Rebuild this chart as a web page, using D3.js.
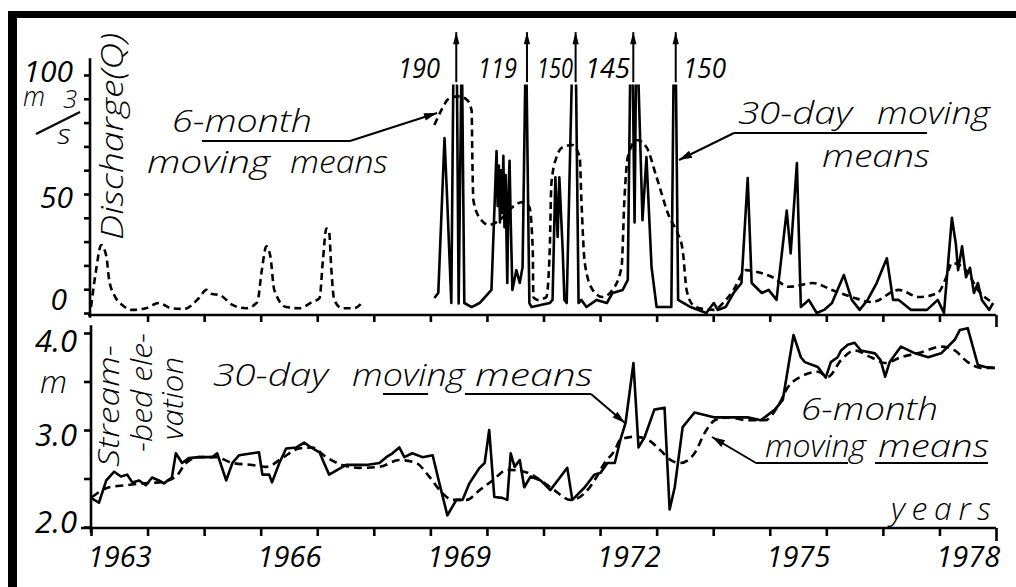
<!DOCTYPE html>
<html><head><meta charset="utf-8">
<script src="https://cdn.jsdelivr.net/npm/d3@7"></script>
<style>
html,body{margin:0;padding:0;background:#fff;overflow:hidden;}
svg{display:block;}
svg text{font-family:"Open Sans",sans-serif;font-style:italic;font-weight:400;fill:#000;}
svg text.ann{font-weight:300;}
</style></head><body>
<svg id="c" width="1016" height="587"></svg>
<script>
// ---------- DATA ----------
const yearLabels = [1963, 1966, 1969, 1972, 1975, 1978];
const dischargeLabels = [0, 50, 100];
const elevationLabels = [2.0, 3.0, 4.0];
const offScaleYears = [1969.44, 1970.69, 1971.55, 1972.57, 1973.32];
const offScaleValues = [190, 119, 150, 145, 150];

// Discharge, 6-month moving means (m3/s)
const q6mEarly = [[1963.0,2.5],[1963.09,18],[1963.18,28.6],[1963.27,24],[1963.32,14],[1963.41,7.6],[1963.55,3.4],[1963.73,1.3],[1963.97,2],[1964.2,4.2],[1964.42,2],[1964.65,1.7],[1964.91,6.3],[1965.04,9.7],[1965.14,8],[1965.27,7.6],[1965.5,3.4],[1965.74,2],[1965.94,4.6],[1966.02,18],[1966.1,28],[1966.17,24],[1966.24,9.7],[1966.45,2.5],[1966.68,2],[1966.91,4.6],[1967.04,6.3],[1967.1,22],[1967.16,35.5],[1967.21,34],[1967.25,18],[1967.3,5.5],[1967.44,2],[1967.65,2],[1967.8,4.6]];
const q6mLate = [[1969.07,79],[1969.19,85],[1969.3,89.5],[1969.39,90.8],[1969.51,91],[1969.65,89.5],[1969.73,85],[1969.74,68.5],[1969.76,47.5],[1969.87,40],[1970.04,37],[1970.22,39],[1970.45,44.5],[1970.63,46.6],[1970.75,44.5],[1970.81,26.5],[1970.82,6.7],[1970.89,5.5],[1971.05,6.7],[1971.11,26.5],[1971.14,54.6],[1971.23,65.5],[1971.34,69.7],[1971.51,70.6],[1971.64,65.5],[1971.67,47.5],[1971.73,21],[1971.87,9.7],[1972.04,6.7],[1972.22,9.7],[1972.38,19.3],[1972.43,47.5],[1972.49,65.5],[1972.65,72.7],[1972.82,69.7],[1973.0,57],[1973.23,40],[1973.37,33.6],[1973.46,26.5],[1973.53,9.7],[1973.64,3.4],[1973.76,2],[1974.01,1.3],[1974.19,4.6],[1974.36,9.7],[1974.58,18],[1974.82,17],[1975.05,15],[1975.34,11],[1975.76,12.6],[1976.1,9.7],[1976.45,6.7],[1976.81,4.6],[1977.28,9.7],[1977.64,6.7],[1977.97,8.4],[1978.12,15],[1978.22,21],[1978.47,18],[1978.68,9.7],[1978.95,4.2]];
// Discharge, 30-day moving means (m3/s)
const q30 = [[1969.07,6.3],[1969.14,8.4],[1969.25,73.5],[1969.3,46],[1969.37,4.2],[1969.44,190],[1969.5,4],[1969.555,115],[1969.6,4.2],[1969.73,2.5],[1969.87,4.2],[1970.08,9.7],[1970.17,68],[1970.19,45],[1970.21,62],[1970.23,38],[1970.25,60],[1970.27,42],[1970.29,66],[1970.31,36],[1970.33,58],[1970.345,32],[1970.36,12.6],[1970.38,50],[1970.4,64],[1970.42,39],[1970.45,9.7],[1970.52,18],[1970.58,12.6],[1970.63,19.3],[1970.69,119],[1970.75,4.2],[1970.79,2.5],[1971.11,4.2],[1971.16,5.5],[1971.21,57],[1971.25,32],[1971.28,57],[1971.34,26],[1971.37,5.5],[1971.41,4.2],[1971.55,150],[1971.62,4.2],[1971.67,5.5],[1971.76,2.5],[1971.94,5.5],[1972.12,4.2],[1972.22,8.4],[1972.4,9.7],[1972.49,13.9],[1972.555,145],[1972.61,38],[1972.645,125],[1972.75,39],[1972.82,65.5],[1972.91,19.3],[1973.0,2.5],[1973.26,2.5],[1973.32,150],[1973.38,5.5],[1973.6,2.5],[1973.88,0],[1974.01,4.2],[1974.08,1.3],[1974.22,2.5],[1974.36,8.4],[1974.5,12.6],[1974.61,56.7],[1974.68,12.6],[1974.86,8.4],[1974.98,9.7],[1975.12,5.5],[1975.3,43],[1975.37,25],[1975.48,63],[1975.55,2.5],[1975.69,5.5],[1975.83,0],[1975.96,1.3],[1976.1,4.2],[1976.31,16],[1976.45,5.5],[1976.59,1.3],[1976.73,5.5],[1976.89,12.6],[1977.07,23],[1977.18,5.5],[1977.28,5.5],[1977.5,1.3],[1977.78,1.3],[1977.97,5.5],[1978.08,0],[1978.22,40],[1978.29,29],[1978.33,18],[1978.4,28],[1978.47,15],[1978.54,19],[1978.61,8.4],[1978.68,12.6],[1978.75,5.5],[1978.88,1.3],[1978.95,4.2]];

// Stream-bed elevation (m), 30-day moving means
const z30 = [[1963.0,2.3],[1963.14,2.25],[1963.27,2.48],[1963.41,2.57],[1963.53,2.52],[1963.64,2.54],[1963.73,2.46],[1963.85,2.48],[1963.97,2.43],[1964.08,2.51],[1964.2,2.48],[1964.29,2.45],[1964.43,2.51],[1964.5,2.76],[1964.61,2.66],[1964.73,2.71],[1964.91,2.72],[1965.14,2.72],[1965.23,2.76],[1965.39,2.48],[1965.5,2.66],[1965.62,2.74],[1965.85,2.76],[1965.97,2.77],[1966.03,2.54],[1966.15,2.54],[1966.2,2.46],[1966.33,2.66],[1966.45,2.81],[1966.63,2.82],[1966.77,2.87],[1966.89,2.82],[1967.04,2.77],[1967.12,2.66],[1967.21,2.54],[1967.51,2.64],[1967.87,2.64],[1968.1,2.66],[1968.22,2.72],[1968.33,2.76],[1968.45,2.82],[1968.54,2.72],[1968.68,2.76],[1968.86,2.72],[1969.04,2.74],[1969.16,2.45],[1969.3,2.12],[1969.46,2.28],[1969.57,2.28],[1969.69,2.45],[1969.87,2.61],[1969.96,2.66],[1970.04,3.0],[1970.13,2.31],[1970.27,2.3],[1970.36,2.28],[1970.42,2.76],[1970.49,2.62],[1970.58,2.69],[1970.66,2.41],[1970.77,2.52],[1970.95,2.48],[1971.12,2.38],[1971.25,2.48],[1971.42,2.61],[1971.51,2.28],[1971.73,2.41],[1971.9,2.54],[1972.01,2.56],[1972.13,2.66],[1972.26,2.66],[1972.36,2.9],[1972.45,3.07],[1972.59,3.69],[1972.68,2.82],[1972.79,2.93],[1972.96,3.21],[1973.14,3.23],[1973.23,2.18],[1973.32,2.41],[1973.46,3.03],[1973.67,3.18],[1974.03,3.13],[1974.26,3.13],[1974.61,3.13],[1974.84,3.1],[1975.09,3.21],[1975.23,3.31],[1975.42,3.98],[1975.55,3.75],[1975.62,3.7],[1975.85,3.65],[1975.99,3.54],[1976.08,3.7],[1976.2,3.75],[1976.26,3.82],[1976.38,3.88],[1976.5,3.9],[1976.61,3.82],[1976.86,3.79],[1976.96,3.72],[1977.04,3.55],[1977.12,3.7],[1977.32,3.86],[1977.57,3.79],[1977.8,3.75],[1978.03,3.79],[1978.27,3.93],[1978.36,4.03],[1978.5,4.05],[1978.68,3.67],[1978.81,3.65],[1978.98,3.64]];
// Stream-bed elevation (m), 6-month moving means
const z6m = [[1963.02,2.31],[1963.32,2.41],[1963.62,2.43],[1963.9,2.45],[1964.2,2.46],[1964.5,2.52],[1964.68,2.66],[1964.91,2.72],[1965.21,2.72],[1965.5,2.66],[1965.85,2.64],[1966.1,2.62],[1966.38,2.71],[1966.68,2.81],[1966.91,2.82],[1967.16,2.72],[1967.44,2.64],[1967.74,2.61],[1968.1,2.62],[1968.45,2.69],[1968.75,2.66],[1968.98,2.52],[1969.21,2.35],[1969.39,2.28],[1969.64,2.28],[1969.87,2.38],[1970.1,2.48],[1970.36,2.59],[1970.72,2.56],[1970.95,2.48],[1971.19,2.38],[1971.48,2.28],[1971.73,2.35],[1971.9,2.48],[1972.08,2.66],[1972.26,2.79],[1972.36,2.9],[1972.61,2.93],[1972.84,2.9],[1973.07,2.79],[1973.25,2.69],[1973.42,2.66],[1973.67,2.76],[1973.85,2.97],[1974.03,3.1],[1974.26,3.13],[1974.61,3.1],[1974.91,3.1],[1975.14,3.24],[1975.32,3.44],[1975.55,3.55],[1975.85,3.6],[1976.03,3.55],[1976.26,3.72],[1976.5,3.82],[1976.79,3.75],[1977.04,3.69],[1977.32,3.75],[1977.67,3.8],[1978.03,3.86],[1978.27,3.82],[1978.5,3.7],[1978.73,3.64],[1978.98,3.64]];

// ---------- DRAW ----------
const svg = d3.select("#c");
const SW = 2.6;
svg.append("rect").attr("width",1016).attr("height",587).attr("fill","#fff");
// frame (top and left only)
svg.append("rect").attr("x",8).attr("y",11).attr("width",1008).attr("height",7).attr("fill","#000");
svg.append("rect").attr("x",8).attr("y",11).attr("width",9).attr("height",576).attr("fill","#000");

const x = d3.scaleLinear().domain([1963,1979]).range([91,996]);
const yQ = d3.scaleLinear().domain([0,100]).range([313,75]);
const yZ = d3.scaleLinear().domain([2,4]).range([527,333]);

function styleAxis(g){
  g.select(".domain").remove();
  g.selectAll(".tick line").attr("stroke","#000").attr("stroke-width",SW);
  g.attr("font-family",null).attr("font-size",null);
}

// ---- top panel axes
svg.append("line").attr("x1",x(1963)-1).attr("x2",x(1963)-1).attr("y1",yQ(107)).attr("y2",yQ(-2)).attr("stroke","#000").attr("stroke-width",SW);
svg.append("g").attr("transform",`translate(${x(1963)-1},0)`)
  .call(d3.axisLeft(yQ).tickValues(d3.range(0,101,10)).tickSize(6).tickFormat(""))
  .call(styleAxis);
const gTopX = svg.append("g").attr("transform",`translate(0,${yQ(0)+2})`)
  .call(d3.axisBottom(x).tickValues(d3.range(1964,1980)).tickSize(7).tickFormat(""))
  .call(styleAxis);
gTopX.selectAll(".tick line").filter(d=>d===1979).attr("y2",12);
svg.append("line").attr("x1",x(1963)-3).attr("x2",x(1979)).attr("y1",yQ(0)+2).attr("y2",yQ(0)+2).attr("stroke","#000").attr("stroke-width",SW);
const gQL = svg.append("g").attr("transform",`translate(${x(1963)-1},0)`)
  .call(d3.axisLeft(yQ).tickValues(dischargeLabels).tickSize(0).tickPadding(17).tickFormat(d3.format("d")))
  .call(styleAxis);
gQL.selectAll("text").attr("font-size",30).attr("dy",d=> d===0 ? "-0.12em" : (d===50 ? "0.45em" : "0.2em"))
  .attr("dx",d=> d===0 ? -6 : 0);

// ---- bottom panel axes
svg.append("line").attr("x1",x(1963)).attr("x2",x(1963)).attr("y1",yZ(4.08)).attr("y2",yZ(1.94)).attr("stroke","#000").attr("stroke-width",SW);
svg.append("g").attr("transform",`translate(${x(1963)},0)`)
  .call(d3.axisLeft(yZ).tickValues([2,2.5,3,3.5,4]).tickSize(7).tickFormat(""))
  .call(styleAxis);
const gBotX = svg.append("g").attr("transform",`translate(0,${yZ(2)+1})`)
  .call(d3.axisBottom(x).tickValues(d3.range(1963,1980)).tickSize(8).tickFormat(""))
  .call(styleAxis);
gBotX.selectAll(".tick line").filter(d=>d===1979).attr("y2",13);
svg.append("line").attr("x1",x(1963)-10).attr("x2",x(1979)).attr("y1",yZ(2)+1).attr("y2",yZ(2)+1).attr("stroke","#000").attr("stroke-width",SW);
const gZL = svg.append("g").attr("transform",`translate(${x(1963)},0)`)
  .call(d3.axisLeft(yZ).tickValues(elevationLabels).tickSize(0).tickPadding(14).tickFormat(d3.format(".1f")))
  .call(styleAxis);
gZL.selectAll("text").attr("font-size",31).attr("dy",d=> d===4 ? "0.6em" : (d===3 ? "0.5em" : "0.18em"));
// year labels, centred in each year interval
const gYL = svg.append("g").attr("transform",`translate(0,${yZ(2)+1})`)
  .call(d3.axisBottom(x).tickValues(yearLabels.map(v=>v+0.5)).tickSize(0).tickPadding(18).tickFormat(d=>String(Math.floor(d))))
  .call(styleAxis);
gYL.selectAll("text").attr("font-size",29).attr("dy","0.71em");

// ---- series
svg.append("clipPath").attr("id","clipTop").append("rect").attr("x",0).attr("y",yQ(96)).attr("width",1016).attr("height",yQ(-3)-yQ(96));
const gTop = svg.append("g").attr("clip-path","url(#clipTop)");
const lq = d3.line().x(d=>x(d[0])).y(d=>yQ(d[1]));
const lqs = d3.line().x(d=>x(d[0])).y(d=>yQ(d[1])).curve(d3.curveMonotoneX);
gTop.append("path").attr("d",lq(q30)).attr("fill","none").attr("stroke","#000").attr("stroke-width",SW).attr("stroke-linejoin","round");
[q6mEarly,q6mLate].forEach(s=>gTop.append("path").attr("d",lqs(s)).attr("fill","none").attr("stroke","#000").attr("stroke-width",SW).attr("stroke-dasharray","7,4.5"));
const lz = d3.line().x(d=>x(d[0])).y(d=>yZ(d[1]));
const lzs = d3.line().x(d=>x(d[0])).y(d=>yZ(d[1])).curve(d3.curveMonotoneX);
svg.append("path").attr("d",lz(z30)).attr("fill","none").attr("stroke","#000").attr("stroke-width",SW).attr("stroke-linejoin","round");
svg.append("path").attr("d",lzs(z6m)).attr("fill","none").attr("stroke","#000").attr("stroke-width",SW).attr("stroke-dasharray","8,5");

// ---- helpers
function arrow(x1,y1,x2,y2,len=13,hw=3.6){
  svg.append("line").attr("x1",x1).attr("y1",y1).attr("x2",x2).attr("y2",y2).attr("stroke","#000").attr("stroke-width",2);
  const a=Math.atan2(y2-y1,x2-x1), c=Math.cos(a), s=Math.sin(a);
  const bx=x2-len*c, by=y2-len*s;
  svg.append("path").attr("d",`M${x2},${y2}L${bx-hw*s},${by+hw*c}L${bx+hw*s},${by-hw*c}Z`).attr("fill","#000");
}
function hline(x1,x2,y){svg.append("line").attr("x1",x1).attr("x2",x2).attr("y1",y).attr("y2",y).attr("stroke","#000").attr("stroke-width",2);}
function txt(s,xp,yp,size,len,rot,adj){
  const t=svg.append("text").attr("class","ann").attr("font-size",size).text(s).attr("lengthAdjust",adj||"spacingAndGlyphs");
  if(len) t.attr("textLength",len);
  if(rot){t.attr("transform",`translate(${xp},${yp}) rotate(-90)`);} else {t.attr("x",xp).attr("y",yp);}
  return t;
}

// off-scale peaks
offScaleYears.forEach((yr,i)=>{
  arrow(x(yr)+1, yQ(97), x(yr)+1, yQ(118), 12, 3.2);
});
const peakLabelX = [[398,42],[478,39],[537,36],[585,45],[683,43]];
offScaleValues.forEach((v,i)=>txt(String(v),peakLabelX[i][0],78,28,peakLabelX[i][1]).attr("class",null));

// units / titles
txt("Discharge(Q)",123,240,31,207,true);
txt("m",23,106,28,22);
txt("3",63,108,25,14);
svg.append("line").attr("x1",36).attr("y1",134).attr("x2",80).attr("y2",112).attr("stroke","#000").attr("stroke-width",2.2);
txt("s",57,144,28,14);
txt("m",40,393,31,27);
txt("Stream-",119,467,30,122,true);
txt("-bed ele-",152,452,30,119,true);
txt("vation",183,440,30,83,true);

// annotations top
txt("6-month",172,132,32,140);
txt("moving",147,173,32,123);
txt("means",290,173,32,98);
hline(202,350,141);
arrow(350,141,437,113,13,3.8);
txt("30-day",738,124,32,114);
txt("moving",877,124,32,113);
txt("means",822,167,32,108);
hline(734,927,133);
arrow(734,133,679,160,13,3.8);

// annotations bottom
txt("30-day",213,386,32,115);
txt("moving",352,386,32,113);
txt("means",475,386,32,118);
hline(383,428,394);
hline(465,591,394);
arrow(591,394,625,423,13,3.8);
txt("6-month",801,420,32,137);
txt("moving",765,457,32,101);
txt("means",878,457,32,111);
hline(756,848,463);
hline(875,988,463);
arrow(756,463,712,437,13,3.8);
txt("years",891,520,32,100,false,"spacing");
</script>
</body></html>
